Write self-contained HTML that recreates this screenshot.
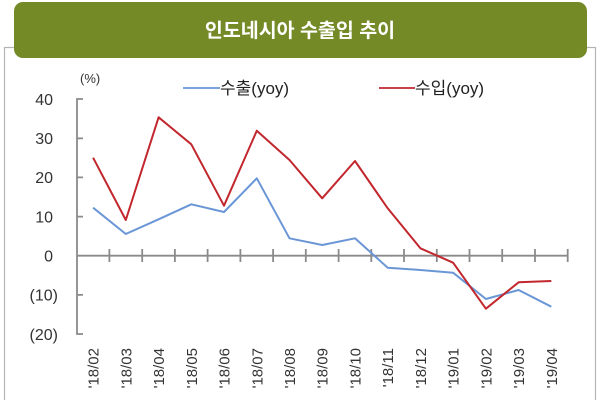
<!DOCTYPE html>
<html><head><meta charset="utf-8"><style>
html,body{margin:0;padding:0;background:#fff;}
svg{display:block;}
text{font-family:"Liberation Sans","Noto Sans CJK KR",sans-serif;}
</style></head><body>
<svg width="600" height="400" viewBox="0 0 600 400" xmlns="http://www.w3.org/2000/svg">
<rect width="600" height="400" fill="#fff"/>
<!-- outer box -->
<path d="M4.5 400 V47.5 H300 M595.5 400 V47.5 H300" fill="none" stroke="#b4b4b4" stroke-width="1.2"/>
<!-- banner -->
<rect x="14" y="2" width="573" height="56" rx="9" ry="9" fill="#748a27"/>
<text x="300" y="37" fill="#fff" font-size="19.5" font-weight="bold" text-anchor="middle" font-family="'Noto Sans CJK KR',sans-serif">인도네시아 수출입 추이</text>
<!-- unit -->
<text x="80" y="83" font-size="13" fill="#333">(%)</text>
<!-- legend -->
<line x1="183" y1="88" x2="220" y2="88" stroke="#6a96d6" stroke-width="1.8"/>
<text x="220" y="94" font-size="17" fill="#222">수출(yoy)</text>
<line x1="379" y1="88" x2="415" y2="88" stroke="#c1272d" stroke-width="1.8"/>
<text x="415" y="94" font-size="17" fill="#222">수입(yoy)</text>
<!-- y labels -->
<g font-size="16" fill="#333" text-anchor="end">
<text x="53" y="104.8">40</text>
<text x="53" y="144.2">30</text>
<text x="53" y="183.2">20</text>
<text x="53" y="222.4">10</text>
<text x="53" y="261.5">0</text>
<text x="58" y="300.7">(10)</text>
<text x="58" y="339.8">(20)</text>
</g>
<!-- axes -->
<g stroke="#8a8a8a" stroke-width="1.8" fill="none">
<path d="M83 99 H77 V334 H83"/>
<path d="M77 138.4 H83 M77 177.4 H83 M77 216.6 H83 M77 294.9 H83"/>
<line x1="77" y1="255.7" x2="568" y2="255.7"/>
<path d="M109.4 249 V262 M142.2 249 V262 M174.9 249 V262 M207.6 249 V262 M240.4 249 V262 M273.1 249 V262 M305.8 249 V262 M338.6 249 V262 M371.3 249 V262 M404 249 V262 M436.8 249 V262 M469.5 249 V262 M502.2 249 V262 M535 249 V262 M567.7 249 V262"/>
</g>
<!-- series -->
<polyline fill="none" stroke="#6a96d6" stroke-width="2" stroke-linejoin="round" points="93.1,207.7 125.8,234 158.6,219.3 191.3,204.3 224,212 256.8,178.3 289.5,238.3 322.2,245 355,238.3 387.7,267.7 420.4,270 453.1,272.7 485.9,299 518.6,290 551.3,306.7"/>
<polyline fill="none" stroke="#c1272d" stroke-width="2" stroke-linejoin="round" points="93.1,157.7 125.8,220 158.6,117.3 191.3,144.3 224,205.7 256.8,130.7 289.5,160 322.2,198.3 355,161 387.7,208.3 420.4,248.3 453.1,262.7 485.9,308.7 518.6,282.3 551.3,281"/>
<!-- x labels -->
<g font-size="15" fill="#333" text-anchor="end">
<text transform="translate(98.6,348) rotate(-90)">'18/02</text>
<text transform="translate(131.3,348) rotate(-90)">'18/03</text>
<text transform="translate(164.1,348) rotate(-90)">'18/04</text>
<text transform="translate(196.8,348) rotate(-90)">'18/05</text>
<text transform="translate(229.5,348) rotate(-90)">'18/06</text>
<text transform="translate(262.3,348) rotate(-90)">'18/07</text>
<text transform="translate(295,348) rotate(-90)">'18/08</text>
<text transform="translate(327.7,348) rotate(-90)">'18/09</text>
<text transform="translate(360.5,348) rotate(-90)">'18/10</text>
<text transform="translate(393.2,348) rotate(-90)">'18/11</text>
<text transform="translate(425.9,348) rotate(-90)">'18/12</text>
<text transform="translate(458.6,348) rotate(-90)">'19/01</text>
<text transform="translate(491.4,348) rotate(-90)">'19/02</text>
<text transform="translate(524.1,348) rotate(-90)">'19/03</text>
<text transform="translate(556.8,348) rotate(-90)">'19/04</text>
</g>
</svg>
</body></html>
